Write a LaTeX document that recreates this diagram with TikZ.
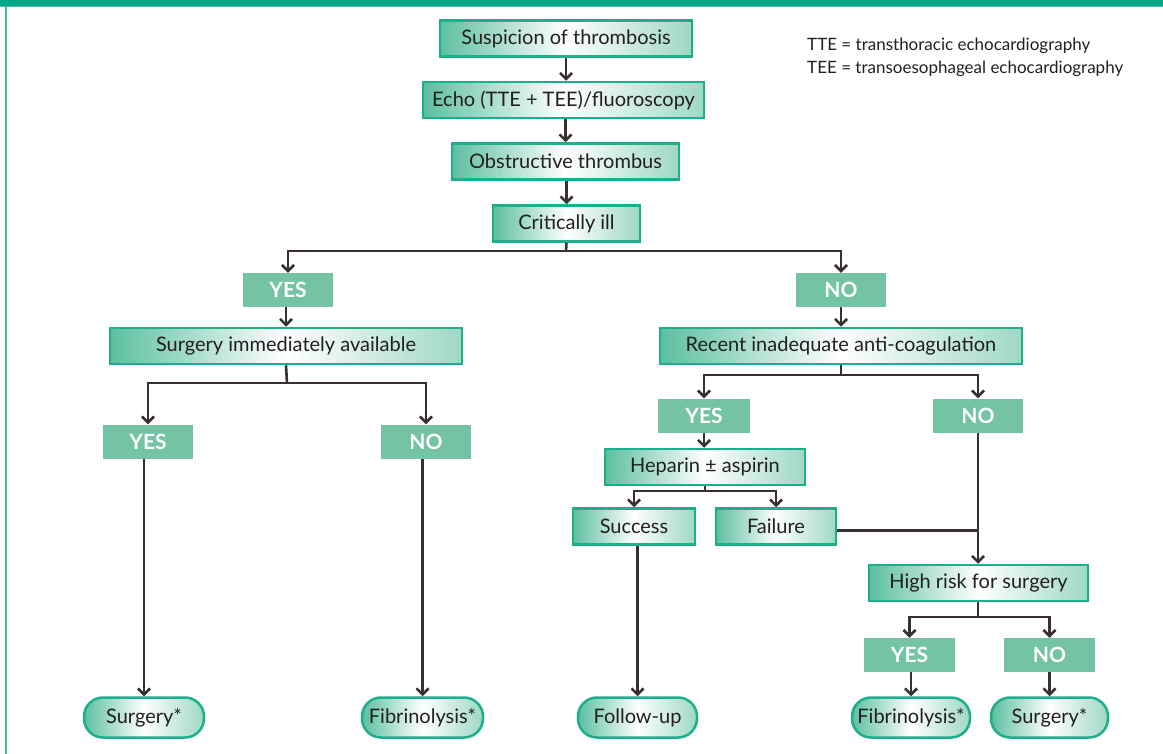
\documentclass[tikz,border=0pt]{standalone}
\usepackage{fontspec}
\setmainfont{Lato}
\usetikzlibrary{arrows.meta}
\definecolor{frame}{HTML}{00A88A}
\definecolor{edge}{HTML}{1DAE8B}
\definecolor{shadeL}{HTML}{5CBFA0}
\definecolor{shadeR}{HTML}{9ED8C4}
\definecolor{labfill}{HTML}{74C3A4}
\definecolor{ink}{HTML}{231F20}
\definecolor{wire}{HTML}{3A3030}
\tikzset{
  box/.style={draw=edge, line width=2.5pt, left color=shadeL, right color=shadeR,
    middle color=white, minimum height=36pt, inner sep=0pt, text=ink,
    font=\fontsize{20}{24}\selectfont},
  oval/.style={box, rounded corners=19pt, minimum height=40pt},
  lab/.style={fill=labfill, text=white, inner sep=0pt, minimum width=90pt,
    minimum height=34pt, font=\fontsize{21}{24}\selectfont\bfseries},
  wireline/.style={draw=wire, line width=2.6pt},
  arr/.style={wireline, -{Straight Barb[length=6pt,width=12pt,line width=2.6pt]}},
}
\begin{document}
\begin{tikzpicture}[x=1pt,y=-1pt]
  % page and frame
  \useasboundingbox (0,0) rectangle (1163,754);
  \fill[white] (0,0) rectangle (1163,754);
  \fill[frame] (0,0) rectangle (1163,6);
  \draw[edge!80, line width=1pt] (0,7) -- (1163,7);
  \draw[edge!85, line width=2pt] (6,6) -- (6,754);

  % legend
  \node[anchor=north west, align=left, text=ink, inner sep=0pt,
        font=\fontsize{17}{23}\selectfont] (legend) at (807,38)
    {TTE = transthoracic echocardiography\\TEE = transoesophageal echocardiography};

  % main column
  \node[box, minimum width=252pt] (s1) at (566,38.5) {Suspicion of thrombosis};
  \node[box, minimum width=281pt] (s2) at (563.5,100) {Echo (TTE + TEE)/fluoroscopy};
  \node[box, minimum width=227pt] (s3) at (565.5,161.5) {Obstructive thrombus};
  \node[box, minimum width=147pt] (s4) at (566.5,223.5) {Critically ill};

  % left branch
  \node[lab] (y1) at (288,290) {YES};
  \node[box, minimum width=352pt] (sia) at (286,346) {Surgery immediately available};
  \node[lab] (y2) at (148,441.5) {YES};
  \node[lab] (n2) at (426,441.5) {NO};
  \node[oval, minimum width=120pt] (surg1) at (144,717.5) {Surgery*};
  \node[oval, minimum width=121pt] (fib1) at (422.5,717.5) {Fibrinolysis*};

  % right branch
  \node[lab] (n1) at (841,290) {NO};
  \node[box, minimum width=362pt] (ria) at (841,346) {Recent inadequate anti-coagulation};
  \node[lab, minimum width=92pt] (y3) at (704,415.5) {YES};
  \node[lab] (n3) at (978,415.5) {NO};
  \node[box, minimum width=200pt] (hep) at (705,467) {Heparin ± aspirin};
  \node[box, minimum width=122pt] (succ) at (634,526.5) {Success};
  \node[box, minimum width=120pt] (fail) at (776,526.5) {Failure};
  \node[oval, minimum width=119pt] (fol) at (637.5,717.5) {Follow-up};
  \node[box, minimum width=219pt] (hr) at (978.5,583) {High risk for surgery};
  \node[lab, minimum width=91pt] (y4) at (909.5,655) {YES};
  \node[lab, minimum width=91pt] (n4) at (1049.5,655) {NO};
  \node[oval, minimum width=118pt] (fib2) at (911,717.5) {Fibrinolysis*};
  \node[oval, minimum width=117pt] (surg2) at (1049.5,717.5) {Surgery*};

  % junction points of the branching connectors
  \coordinate (j1) at (566,251);
  \coordinate (j2) at (287,383);
  \coordinate (j3) at (841,375);
  \coordinate (j4) at (705,491);
  \coordinate (j5) at (978,617);

  % connectors
  \draw[arr] (s1.south) -- (s1.south |- s2.north);
  \draw[arr] (s2.south -| s3.north) -- (s3.north);
  \draw[arr] (s3.south -| s4.north) -- (s4.north);
  \draw[wireline] (s4.south) -- (j1);
  \draw[arr] (j1) -| (y1.north);
  \draw[arr] (j1) -| (n1.north);

  \draw[arr] (y1.south -| sia.north) -- (sia.north);
  \draw[wireline] (sia.south) -- (j2);
  \draw[arr] (j2) -| (y2.north);
  \draw[arr] (j2) -| (n2.north);
  \draw[arr] (y2.south -| surg1.north) -- (surg1.north);
  \draw[arr] (n2.south -| fib1.north) -- (fib1.north);

  \draw[arr] (n1.south) -- (ria.north);
  \draw[wireline] (ria.south) -- (j3);
  \draw[arr] (j3) -| (y3.north);
  \draw[arr] (j3) -| (n3.north);
  \draw[arr] (y3.south) -- (y3.south |- hep.north);
  \draw[wireline] (hep.south) -- (j4);
  \draw[arr] (j4) -| (succ.north);
  \draw[arr] (j4) -| (fail.north);
  \draw[arr] (succ.south -| fol.north) -- (fol.north);
  \draw[wireline] ([yshift=-4pt]fail.east) -- ([yshift=-4pt]fail.east -| n3.south);
  \draw[arr] (n3.south) -- (n3.south |- hr.north);
  \draw[wireline] (hr.south -| j5) -- (j5);
  \draw[arr] (j5) -| (y4.north);
  \draw[arr] (j5) -| (n4.north);
  \draw[arr] (y4.south -| fib2.north) -- (fib2.north);
  \draw[arr] (n4.south) -- (n4.south |- surg2.north);
\end{tikzpicture}
\end{document}
